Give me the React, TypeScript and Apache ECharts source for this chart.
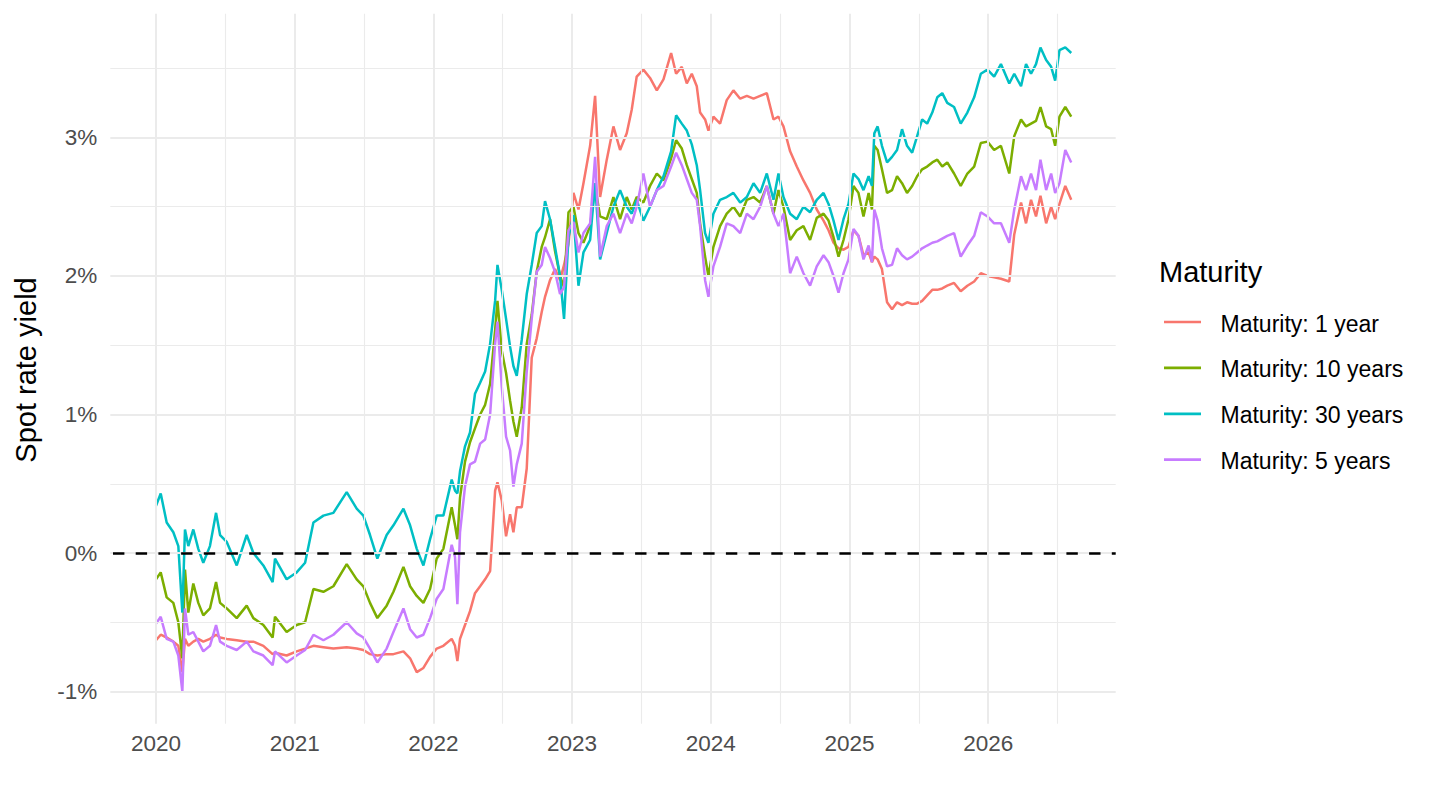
import React, { useEffect, useRef } from "react";
import * as echarts from "echarts";

// Sample dates (decimal years)
const dates = [
  2020.000, 2020.034, 2020.077, 2020.125, 2020.161, 2020.190, 2020.209, 2020.233, 2020.269, 2020.305,
  2020.341, 2020.389, 2020.433, 2020.462, 2020.510, 2020.582, 2020.654, 2020.702, 2020.774, 2020.841,
  2020.858, 2020.942, 2021.014, 2021.075, 2021.135, 2021.207, 2021.279, 2021.375, 2021.447, 2021.495,
  2021.543, 2021.596, 2021.663, 2021.712, 2021.784, 2021.832, 2021.880, 2021.928, 2021.976, 2022.024,
  2022.072,
  2022.132, 2022.156, 2022.173, 2022.192, 2022.228, 2022.264, 2022.300, 2022.337, 2022.373, 2022.409,
  2022.445, 2022.462, 2022.493, 2022.524, 2022.553, 2022.577, 2022.601, 2022.637, 2022.673, 2022.709,
  2022.745, 2022.781, 2022.805, 2022.841, 2022.877, 2022.913, 2022.942, 2022.974, 2023.010,
  2023.046, 2023.082, 2023.130, 2023.166, 2023.202, 2023.250, 2023.298, 2023.346, 2023.394, 2023.430,
  2023.466, 2023.514, 2023.562, 2023.611, 2023.659, 2023.714, 2023.750, 2023.791, 2023.827, 2023.863,
  2023.899, 2023.923, 2023.959, 2023.983, 2024.019, 2024.067, 2024.115, 2024.163, 2024.212, 2024.260,
  2024.308, 2024.356, 2024.404, 2024.452, 2024.488, 2024.524, 2024.572, 2024.620, 2024.668, 2024.716,
  2024.764, 2024.813, 2024.849, 2024.885, 2024.921, 2024.957, 2024.993, 2025.029,
  2025.065, 2025.101, 2025.138, 2025.162, 2025.179, 2025.203, 2025.234, 2025.271, 2025.307, 2025.343,
  2025.379, 2025.415, 2025.452, 2025.488, 2025.524, 2025.560, 2025.597, 2025.633, 2025.669, 2025.705,
  2025.754, 2025.802, 2025.850, 2025.899, 2025.947, 2025.995, 2026.043, 2026.092, 2026.152, 2026.188,
  2026.237, 2026.273, 2026.309, 2026.345, 2026.377, 2026.418, 2026.454, 2026.483, 2026.514, 2026.556,
  2026.599,
];

// Maturity: 1 year (%)
const yield1y = [
  -0.63, -0.59, -0.61, -0.64, -0.67, -0.86, -0.62, -0.67, -0.64, -0.62,
  -0.64, -0.62, -0.59, -0.61, -0.62, -0.63, -0.64, -0.64, -0.67, -0.73,
  -0.72, -0.74, -0.71, -0.69, -0.67, -0.68, -0.69, -0.68, -0.69, -0.70,
  -0.73, -0.74, -0.73, -0.73, -0.71, -0.76, -0.86, -0.83, -0.75, -0.69,
  -0.67,
  -0.62, -0.67, -0.78, -0.62, -0.52, -0.42, -0.29, -0.24, -0.19, -0.13,
  0.45, 0.51, 0.38, 0.12, 0.28, 0.15, 0.33, 0.33, 0.61, 1.41,
  1.55, 1.74, 1.85, 1.97, 2.05, 1.97, 2.08, 2.23, 2.60,
  2.48, 2.67, 2.94, 3.30, 2.57, 2.84, 3.08, 2.91, 3.03, 3.20,
  3.44, 3.49, 3.43, 3.34, 3.42, 3.61, 3.46, 3.51, 3.39, 3.46,
  3.37, 3.18, 3.13, 3.05, 3.15, 3.10, 3.27, 3.34, 3.28, 3.30,
  3.28, 3.30, 3.32, 3.13, 3.15, 3.08, 2.90, 2.79, 2.69, 2.60,
  2.48, 2.40, 2.33, 2.24, 2.20, 2.19, 2.21, 2.33,
  2.29, 2.15, 2.17, 2.10, 2.14, 2.12, 2.05, 1.81, 1.76, 1.81,
  1.79, 1.81, 1.80, 1.80, 1.82, 1.86, 1.90, 1.90, 1.91, 1.93,
  1.95, 1.89, 1.93, 1.96, 2.02, 2.00, 1.99, 1.98, 1.96, 2.30,
  2.53, 2.38, 2.55, 2.43, 2.58, 2.38, 2.50, 2.41, 2.52, 2.65,
  2.55,
];

// Maturity: 10 years (%)
const yield10y = [
  -0.19, -0.14, -0.32, -0.36, -0.50, -0.76, -0.12, -0.43, -0.22, -0.36,
  -0.45, -0.40, -0.21, -0.36, -0.40, -0.47, -0.38, -0.47, -0.52, -0.61,
  -0.46, -0.57, -0.52, -0.50, -0.26, -0.28, -0.24, -0.08, -0.19, -0.24,
  -0.36, -0.47, -0.38, -0.28, -0.10, -0.24, -0.31, -0.36, -0.26, -0.04,
  0.03,
  0.33, 0.20, 0.10, 0.40, 0.66, 0.80, 0.90, 1.00, 1.07, 1.22,
  1.61, 1.82, 1.46, 1.30, 1.10, 0.95, 0.84, 1.05, 1.51, 1.72,
  2.03, 2.21, 2.28, 2.41, 2.18, 2.00, 1.92, 2.46, 2.50,
  2.31, 2.24, 2.36, 2.65, 2.43, 2.41, 2.57, 2.41, 2.57, 2.48,
  2.57, 2.53, 2.65, 2.74, 2.69, 2.85, 2.98, 2.92, 2.80, 2.70,
  2.60, 2.38, 2.14, 2.00, 2.21, 2.36, 2.45, 2.50, 2.43, 2.55,
  2.57, 2.53, 2.65, 2.45, 2.62, 2.50, 2.26, 2.33, 2.36, 2.26,
  2.42, 2.45, 2.40, 2.28, 2.14, 2.26, 2.41, 2.65,
  2.60, 2.43, 2.60, 2.48, 2.94, 2.91, 2.77, 2.60, 2.62, 2.72,
  2.67, 2.60, 2.65, 2.72, 2.77, 2.79, 2.82, 2.84, 2.79, 2.82,
  2.74, 2.65, 2.74, 2.79, 2.96, 2.97, 2.91, 2.94, 2.74, 3.01,
  3.13, 3.08, 3.10, 3.12, 3.22, 3.08, 3.06, 2.94, 3.15, 3.22,
  3.15,
];

// Maturity: 30 years (%)
const yield30y = [
  0.34, 0.43, 0.22, 0.15, 0.05, -0.43, 0.17, 0.05, 0.17, 0.03,
  -0.07, 0.05, 0.29, 0.13, 0.08, -0.09, 0.13, 0.00, -0.09, -0.21,
  -0.04, -0.19, -0.14, -0.07, 0.22, 0.27, 0.29, 0.44, 0.32, 0.27,
  0.13, -0.04, 0.13, 0.20, 0.32, 0.20, 0.03, -0.09, 0.10, 0.27,
  0.27,
  0.53, 0.45, 0.43, 0.59, 0.77, 0.87, 1.15, 1.23, 1.31, 1.51,
  1.82, 2.08, 1.90, 1.69, 1.49, 1.35, 1.28, 1.54, 1.87, 2.08,
  2.31, 2.36, 2.54, 2.41, 2.21, 2.00, 1.69, 2.28, 2.44,
  1.93, 2.17, 2.26, 2.67, 2.12, 2.31, 2.50, 2.62, 2.50, 2.45,
  2.55, 2.40, 2.50, 2.62, 2.72, 2.90, 3.16, 3.10, 3.05, 2.95,
  2.80, 2.62, 2.31, 2.24, 2.45, 2.55, 2.57, 2.60, 2.53, 2.57,
  2.67, 2.60, 2.74, 2.55, 2.74, 2.57, 2.45, 2.41, 2.50, 2.46,
  2.55, 2.60, 2.52, 2.40, 2.26, 2.41, 2.52, 2.74,
  2.70, 2.62, 2.72, 2.65, 3.03, 3.08, 2.94, 2.82, 2.86, 2.91,
  3.06, 2.94, 2.89, 3.01, 3.13, 3.10, 3.18, 3.29, 3.32, 3.25,
  3.22, 3.10, 3.18, 3.29, 3.46, 3.49, 3.44, 3.53, 3.39, 3.46,
  3.37, 3.53, 3.46, 3.53, 3.65, 3.56, 3.51, 3.41, 3.63, 3.65,
  3.61,
];

// Maturity: 5 years (%)
const yield5y = [
  -0.51, -0.46, -0.62, -0.64, -0.74, -1.00, -0.40, -0.59, -0.57, -0.64,
  -0.71, -0.67, -0.52, -0.64, -0.67, -0.70, -0.64, -0.71, -0.74, -0.81,
  -0.71, -0.79, -0.74, -0.70, -0.59, -0.63, -0.59, -0.50, -0.58, -0.61,
  -0.69, -0.79, -0.69, -0.57, -0.40, -0.55, -0.61, -0.59, -0.47, -0.33,
  -0.26,
  0.06, -0.03, -0.37, 0.15, 0.48, 0.64, 0.66, 0.79, 0.82, 1.00,
  1.51, 1.67, 1.20, 0.84, 0.74, 0.48, 0.64, 0.79, 1.31, 1.69,
  2.03, 2.08, 2.21, 2.13, 2.03, 1.87, 1.92, 2.33, 2.39,
  2.17, 2.31, 2.38, 2.86, 2.14, 2.36, 2.45, 2.31, 2.45, 2.38,
  2.50, 2.74, 2.50, 2.62, 2.65, 2.79, 2.89, 2.80, 2.70, 2.60,
  2.55, 2.36, 1.97, 1.85, 2.07, 2.21, 2.38, 2.36, 2.31, 2.45,
  2.41, 2.50, 2.65, 2.45, 2.36, 2.45, 2.02, 2.14, 2.02, 1.93,
  2.07, 2.15, 2.10, 2.00, 1.88, 2.02, 2.12, 2.34,
  2.29, 2.12, 2.22, 2.10, 2.48, 2.40, 2.20, 2.07, 2.08, 2.20,
  2.15, 2.12, 2.14, 2.17, 2.20, 2.22, 2.24, 2.25, 2.27, 2.29,
  2.31, 2.14, 2.22, 2.29, 2.46, 2.43, 2.38, 2.38, 2.24, 2.48,
  2.72, 2.62, 2.74, 2.62, 2.84, 2.62, 2.74, 2.60, 2.67, 2.91,
  2.82,
];

const seriesNames = [
  "Maturity: 1 year",
  "Maturity: 10 years",
  "Maturity: 30 years",
  "Maturity: 5 years",
];
const seriesValues = [yield1y, yield10y, yield30y, yield5y];
const seriesColors = ["#F8766D", "#7CAE00", "#00BFC4", "#C77CFF"];

const legendTitle = "Maturity";
const yAxisTitle = "Spot rate yield";
const xTickValues = [2020, 2021, 2022, 2023, 2024, 2025, 2026];
const xMinorValues = [2020.5, 2021.5, 2022.5, 2023.5, 2024.5, 2025.5, 2026.5];
const yTickValues = [-1, 0, 1, 2, 3];
const yMinorValues = [-0.5, 0.5, 1.5, 2.5, 3.5];
const referenceLevel = 0;

const FONT = "'Liberation Sans', Arial, Helvetica, sans-serif";
const GRID_COLOR = "#EBEBEB";

export default function App() {
  const ref = useRef<HTMLDivElement>(null);

  useEffect(() => {
    if (!ref.current) return;
    const chart = echarts.init(ref.current, null, { renderer: "svg" });

    const major = { color: GRID_COLOR, width: 2, type: "solid" as const };
    const minor = { color: GRID_COLOR, width: 1.1, type: "solid" as const };
    const gridLines = [
      ...xMinorValues.map((v) => ({ xAxis: v, lineStyle: minor })),
      ...yMinorValues.map((v) => ({ yAxis: v, lineStyle: minor })),
      ...xTickValues.map((v) => ({ xAxis: v, lineStyle: major })),
      ...yTickValues.map((v) => ({ yAxis: v, lineStyle: major })),
    ];

    const lineSeries = seriesNames.map((name, i) => ({
      name,
      type: "line",
      data: dates.map((d, j) => [d, seriesValues[i][j]]),
      showSymbol: false,
      symbol: "none",
      lineStyle: { color: seriesColors[i], width: 2.5 },
      itemStyle: { color: seriesColors[i] },
      emphasis: { disabled: true },
      z: 3,
    }));

    const legendTop = 322;
    const legendStep = 45.9;
    const legendGraphics: any[] = [
      {
        type: "text",
        x: 1159,
        y: 271.5,
        style: {
          text: legendTitle,
          font: `29px ${FONT}`,
          fill: "#000000",
          align: "left",
          verticalAlign: "middle",
        },
      },
      {
        type: "text",
        x: 25.5,
        y: 370,
        rotation: Math.PI / 2,
        style: {
          text: yAxisTitle,
          font: `29px ${FONT}`,
          fill: "#000000",
          align: "center",
          verticalAlign: "middle",
        },
      },
    ];
    seriesNames.forEach((name, i) => {
      const y = legendTop + i * legendStep;
      legendGraphics.push({
        type: "line",
        shape: { x1: 1164, y1: y, x2: 1201, y2: y },
        style: { stroke: seriesColors[i], lineWidth: 2.7 },
      });
      legendGraphics.push({
        type: "text",
        x: 1220.5,
        y: y + 1.5,
        style: {
          text: name,
          font: `23px ${FONT}`,
          fill: "#000000",
          align: "left",
          verticalAlign: "middle",
        },
      });
    });

    const option: any = {
      animation: false,
      backgroundColor: "#FFFFFF",
      textStyle: { fontFamily: FONT },
      grid: {
        left: 110.3,
        right: 324.3,
        top: 13.8,
        bottom: 86.2,
        containLabel: false,
        outerBoundsMode: "none",
      },
      xAxis: {
        type: "value",
        min: 2019.6705,
        max: 2026.9195,
        axisLine: { show: false },
        axisTick: { show: false },
        splitLine: { show: false },
        axisLabel: {
          customValues: xTickValues,
          formatter: (v: number) => String(Math.round(v)),
          fontSize: 22.5,
          fontFamily: FONT,
          color: "#4D4D4D",
          margin: 8,
        },
      },
      yAxis: {
        type: "value",
        min: -1.233,
        max: 3.893,
        axisLine: { show: false },
        axisTick: { show: false },
        splitLine: { show: false },
        axisLabel: {
          customValues: yTickValues,
          formatter: (v: number) => `${Math.round(v)}%`,
          fontSize: 22.5,
          fontFamily: FONT,
          color: "#4D4D4D",
          margin: 13,
        },
      },
      series: [
        {
          name: "grid",
          type: "line",
          data: [],
          silent: true,
          z: 0,
          markLine: {
            silent: true,
            symbol: ["none", "none"],
            label: { show: false },
            emphasis: { disabled: true },
            animation: false,
            data: gridLines,
          },
        },
        ...lineSeries,
        {
          name: "reference",
          type: "line",
          data: [],
          silent: true,
          z: 5,
          markLine: {
            silent: true,
            symbol: ["none", "none"],
            label: { show: false },
            emphasis: { disabled: true },
            animation: false,
            data: [
              {
                yAxis: referenceLevel,
                lineStyle: {
                  color: "#000000",
                  width: 2.6,
                  type: [11.4, 11.3],
                  dashOffset: 19.9,
                },
              },
            ],
          },
        },
      ],
      graphic: legendGraphics,
    };

    chart.setOption(option);
    return () => chart.dispose();
  }, []);

  return (
    <div
      ref={ref}
      style={{ position: "absolute", left: 0, top: 0, width: 1440, height: 810 }}
    />
  );
}
